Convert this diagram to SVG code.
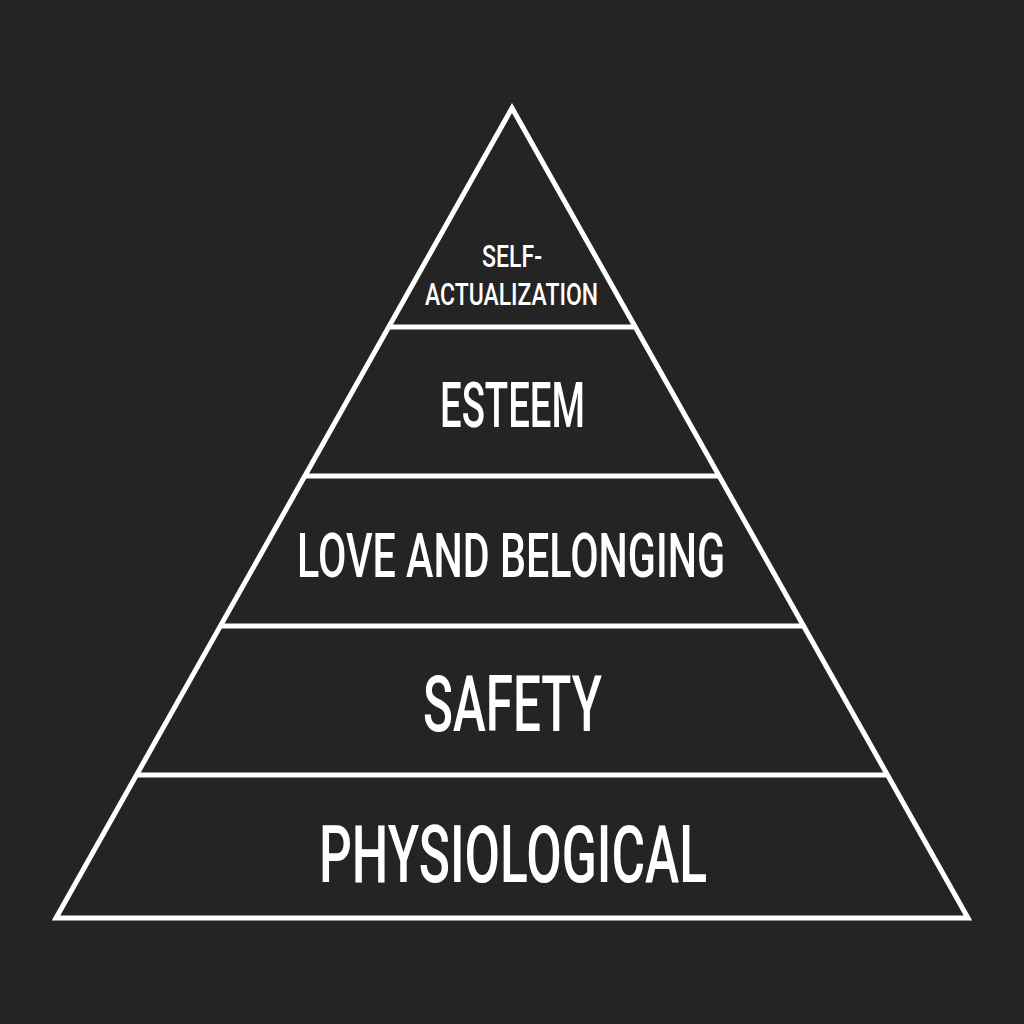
<svg xmlns="http://www.w3.org/2000/svg" width="1024" height="1024" viewBox="0 0 1024 1024">
<style>
.edge{fill:none;stroke:#ffffff;stroke-width:5;stroke-linejoin:miter;stroke-miterlimit:10}
.div{stroke:#ffffff;stroke-width:5}
.lbl{fill:#ffffff;font-family:Roboto,"Liberation Sans",sans-serif;font-weight:500;text-anchor:middle}
</style>
<rect width="1024" height="1024" fill="#242424"/>
<g id="outline">
<polygon class="edge" points="512,108 968,918 56,918"/>
</g>
<g id="connectors">
<line class="div" x1="389" y1="327" x2="635" y2="327"/>
<line class="div" x1="305" y1="476" x2="719" y2="476"/>
<line class="div" x1="221" y1="626" x2="803" y2="626"/>
<line class="div" x1="137" y1="775" x2="887" y2="775"/>
</g>
<g id="self-actualization">
<text class="lbl" x="512" y="267" font-size="32" textLength="60" lengthAdjust="spacingAndGlyphs">SELF-</text>
<text class="lbl" x="511.5" y="305" font-size="31" textLength="173" lengthAdjust="spacingAndGlyphs">ACTUALIZATION</text>
</g>
<g id="esteem">
<text class="lbl" x="512.5" y="427" font-size="63" textLength="145" lengthAdjust="spacingAndGlyphs">ESTEEM</text>
</g>
<g id="love">
<text class="lbl" x="511" y="577" font-size="62" textLength="428" lengthAdjust="spacingAndGlyphs">LOVE AND BELONGING</text>
</g>
<g id="safety">
<text class="lbl" x="512.5" y="731" font-size="77" textLength="179" lengthAdjust="spacingAndGlyphs">SAFETY</text>
</g>
<g id="physiological">
<text class="lbl" x="513" y="882" font-size="80" textLength="388" lengthAdjust="spacingAndGlyphs">PHYSIOLOGICAL</text>
</g>
</svg>
